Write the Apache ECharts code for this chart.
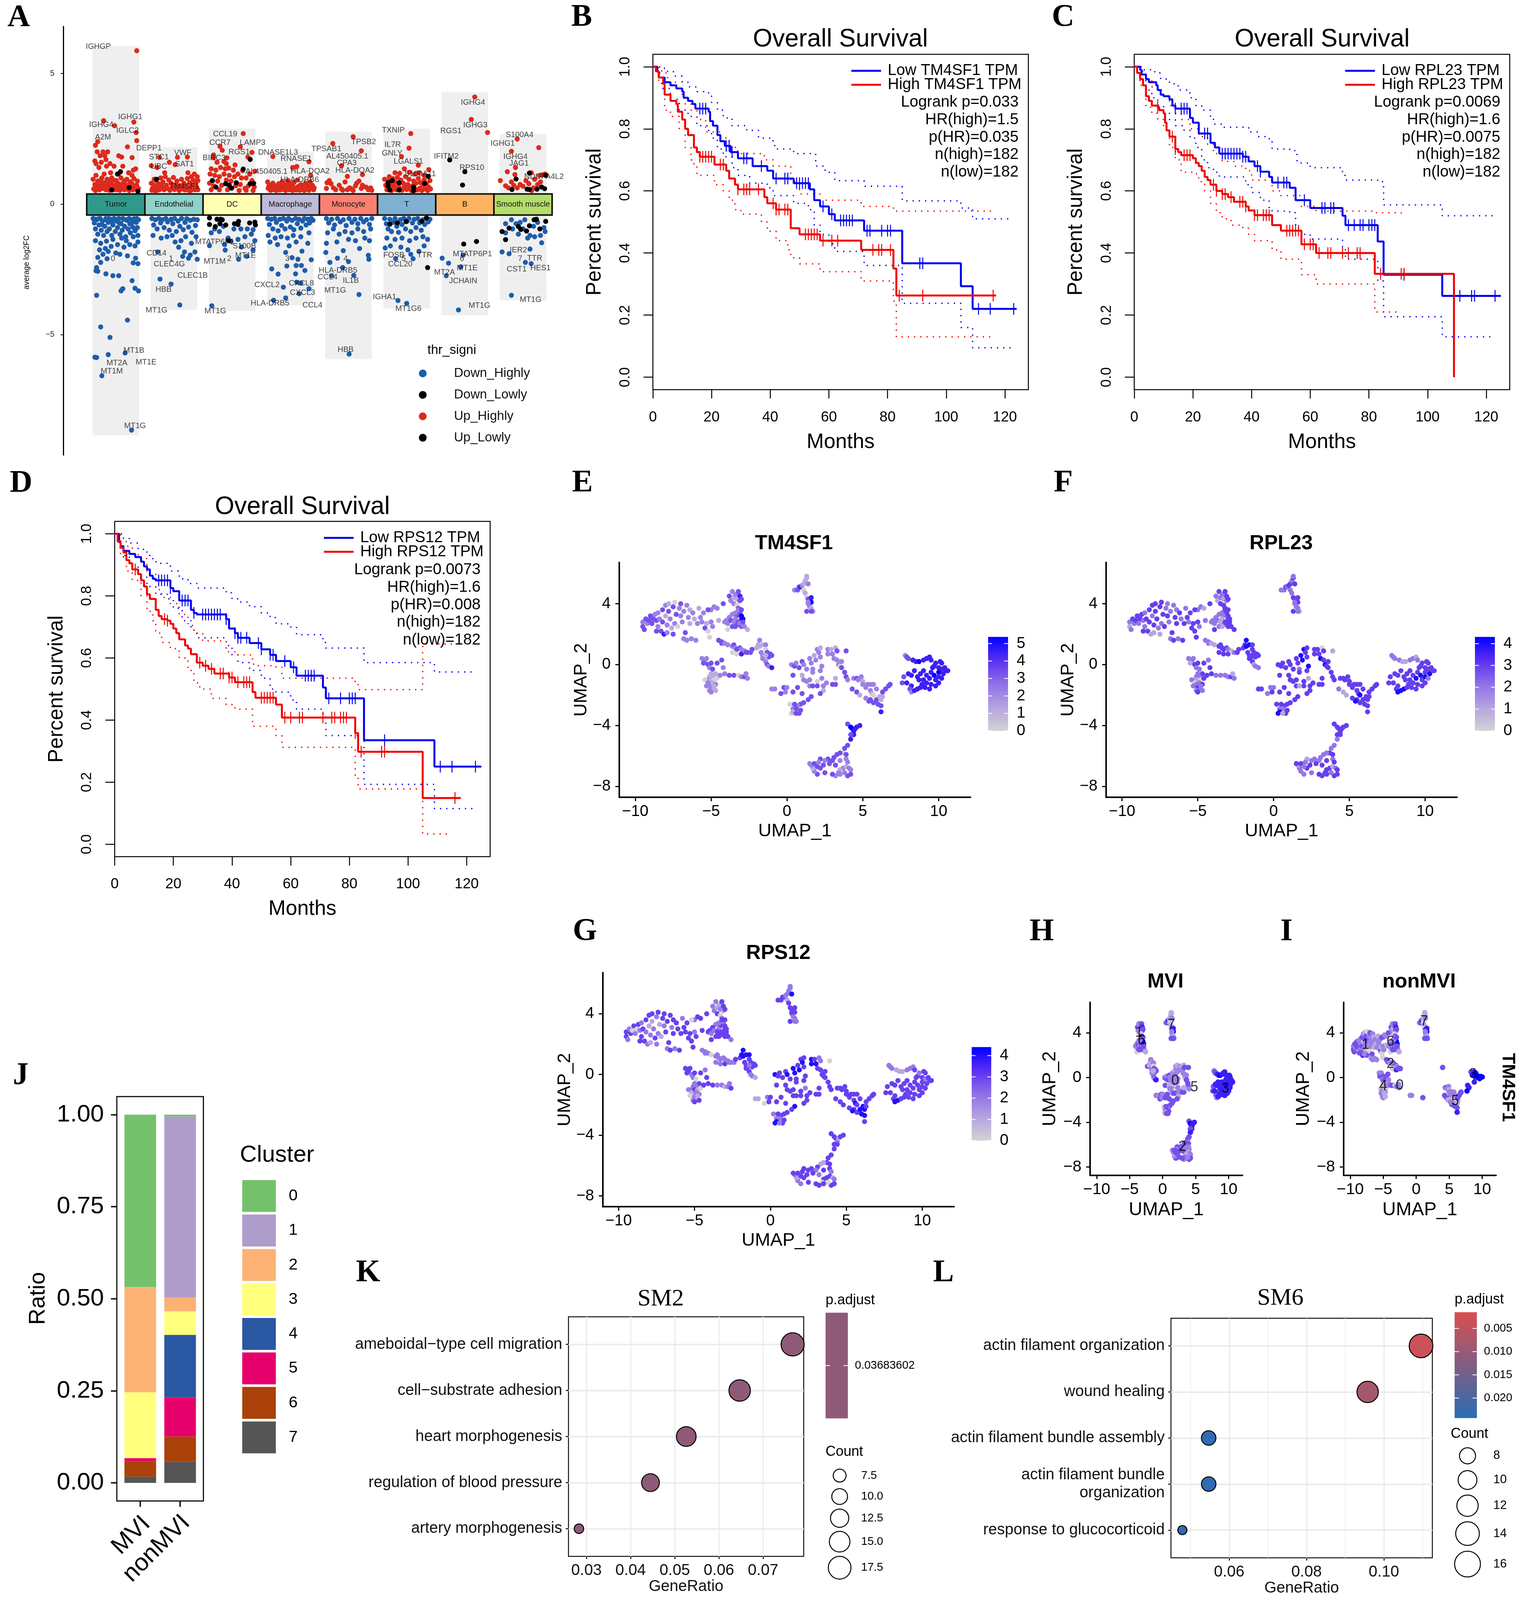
<!DOCTYPE html>
<html><head><meta charset="utf-8">
<style>html,body{margin:0;padding:0;background:#fff;overflow:hidden}#c{width:3898px}</style>
<script src="https://cdn.jsdelivr.net/npm/echarts@6/dist/echarts.min.js"></script>
</head><body><div id="c"></div>
<script>
// ---------- Panel A data (cluster offset, log2FC) ----------
const aClusters=['Tumor','Endothelial','DC','Macrophage','Monocyte','T','B','Smooth muscle'];
const aClusterColors=['#2f9a8b','#8dd3c7','#ffffb3','#bebada','#fb8072','#80b1d3','#fdb462','#b3de69'];
const aBarTop=[6.05,2.18,2.89,2.01,2.77,2.89,4.28,2.68];
const aBarBottom=[-8.85,-4.05,-4.09,-3.88,-5.93,-3.99,-4.25,-3.68];
const aTicks=[-5,0,5];
const aUpHigh=[
[.36,5.87,.31,3.14,-.21,3.19,-.02,3,.35,2.74,.36,2.43,-.31,2.39,-.35,2.25,.2,2.19,-.32,2,-.22,2,-.14,2,-.27,1.85,-.19,1.85,.05,1.85,.1,1.8,.28,1.78,-.36,1.65,-.34,1.55,-.17,1.7,-.25,1.6,-.1,1.55,-.29,1.4,-.16,1.45,-.03,1.45,.12,1.45,.3,1.3,.34,1.35,-.34,1.1,-.2,1.15,-.09,1.2,.05,1.15,.22,1.2,.28,1.1,-.39,.95,-.36,.75,-.33,.62,-.31,.88,-.28,.55,-.26,.72,-.24,1,-.22,.6,-.2,.82,-.17,.55,-.15,.95,-.13,.68,-.11,.53,-.09,.8,-.07,1,-.05,.6,-.03,.72,-.01,.55,.01,.9,.03,.65,.05,.78,.07,.53,.09,1,.11,.62,.13,.82,.15,.55,.17,.7,.19,.95,.21,.6,.23,.52,.25,.85,.27,.65,.29,.55,.31,.98,.33,.7,.35,.58,.37,.88,.39,.6,-.38,.58,-.35,.52,-.3,.7,-.27,.9,-.23,.75,-.19,.62,-.16,.7,-.12,.85,-.08,.6,-.04,.92,0,.72,.04,.55,.08,.7,.12,.58,.16,.9,.2,.72,.24,.62,.28,.78,.32,.58,.36,.72],
[-.25,1.79,.06,1.79,.23,1.8,-.08,1.6,-.39,1.47,-.29,1.4,.02,1.51,-.16,1.2,.24,1.2,.35,1.15,.4,1.05,.3,1.05,-.34,.95,-.39,.8,-.37,.6,-.35,.72,-.33,.52,-.31,.9,-.29,.62,-.27,.78,-.25,.55,-.23,1,-.21,.68,-.19,.85,-.17,.55,-.15,1.05,-.13,.72,-.11,.6,-.09,.92,-.07,.53,-.05,.8,-.03,.65,-.01,1.02,.01,.56,.03,.75,.05,.88,.07,.6,.09,.52,.11,.7,.13,.95,.15,.58,.17,.8,.19,.54,.21,.68,.23,.98,.25,.6,.27,.82,.29,.52,.31,.72,.33,.92,.35,.58,.37,.78,.39,.65,.41,.9,.41,.55,-.38,.53,-.3,.52,-.24,.72,-.14,.6,-.04,.6,.06,.7,.16,.68,.26,.52,.36,.55],
[.19,2.7,-.21,2.21,-.17,2.06,.14,2.19,.34,1.98,-.32,1.88,.27,1.8,-.09,1.77,-.14,1.63,-.32,1.77,-.26,1.6,.39,1.26,-.1,1.55,.05,1.5,-.36,1.35,-.28,1.3,-.2,1.4,-.12,1.35,-.06,1.38,.02,1.3,.1,1.15,.18,1.28,.3,1.15,-.38,1.15,-.3,1.1,-.22,1.05,-.14,1.15,-.05,1.1,.04,1.05,.16,1,.24,1,.34,.9,-.39,.8,-.32,.7,-.25,.88,-.18,.72,-.1,.92,-.02,.88,.06,.7,.14,.75,.22,.6,.28,.7,.38,.65,-.36,.55,-.22,.55,-.08,.55,.12,.52,.24,.53,.36,.52],
[-.3,1.82,.04,1.4,.11,1.44,.32,1.62,.35,1.1,-.39,.85,-.38,.6,-.36,.72,-.34,.53,-.32,.65,-.3,.8,-.28,.55,-.26,.7,-.24,.52,-.22,.62,-.2,.78,-.18,.54,-.16,.68,-.14,.85,-.12,.56,-.1,.72,-.08,.52,-.06,.65,-.04,.9,-.02,.55,0,.75,.02,.6,.04,.52,.06,.82,.08,.62,.1,.54,.12,.92,.14,.68,.16,.53,.18,.74,.2,.56,.22,.65,.24,.52,.26,.8,.28,.58,.3,.7,.32,.53,.34,.85,.36,.6,.38,.72,.4,.55,-.37,.68,-.27,.6,-.17,.58,-.07,.75,.03,.68,.13,.6,.23,.72,.33,.62,.41,.62],
[.08,2.58,-.27,2.32,.22,2.04,-.12,1.47,.24,1.13,-.02,1.06,-.37,.82,-.33,.9,-.3,.78,-.38,.6,-.26,.62,-.22,.55,-.16,.72,-.12,.58,-.06,.85,-.02,.55,.02,.62,.08,.52,.12,.7,.14,.8,.18,.88,.22,.6,.24,.72,.3,.65,.34,.55,.38,.62,.4,.53,-.1,.53,.05,.58],
[.07,2.7,.04,2.14,-.09,1.82,.2,1.49,-.04,1.35,.38,1.32,.21,1.2,-.3,1.05,-.2,1.2,-.12,1.18,.05,1.22,.14,1.15,.3,1.1,-.38,.95,-.36,.72,-.34,.55,-.32,.88,-.3,.62,-.28,.78,-.26,.52,-.24,.98,-.22,.68,-.2,.85,-.18,.55,-.16,1.02,-.14,.72,-.12,.6,-.1,.92,-.08,.53,-.06,.8,-.04,.65,-.02,1.05,0,.56,.02,.75,.04,.95,.06,.6,.08,.52,.1,.7,.12,.88,.14,.58,.16,.8,.18,.54,.2,.98,.22,.6,.24,.82,.26,.52,.28,.72,.3,.92,.32,.58,.34,.78,.36,.52,.38,.65,.4,.9,.41,.58],
[.17,4.1,.11,3.24,.39,2.74],
[-.1,2.49,.27,2.16,-.2,2.02,-.13,1.4,-.27,1.24,-.39,.9,-.14,1.13,.14,1.2,.28,1.1,.33,1.12,.38,1.15,-.2,.85,-.05,.75,-.1,.62,0,.68,.05,.9,.1,.78,.2,.95,.25,.75,-.3,.7,-.25,.62,-.16,.72,.18,.62,.15,.52,.3,.85]];
const aUpLow=[
[.03,1.15,.08,1.24,-.07,.54,.23,.63,.38,.49],[-.3,.95],
[.31,1.71,.19,1.34,-.34,.9,-.28,.65,-.11,.78,-.05,.72,-.01,.61,.07,.82,.31,.78,.37,.79],[],[],
[.37,1.06,-.25,.9,-.32,.82,-.32,.7,-.29,.54,-.13,.82,-.13,.54,.12,.65,.12,.51,.31,.79],
[-.26,1.69,0,1.24,-.04,.73],
[.11,1.19,-.12,.96,-.19,.56,.07,.57,.11,.56,.24,.57,.32,.65,.37,.59,.39,1.1]];
const aDownHigh=[
[-.33,-3.49,-.26,-4.7,-.1,-5.1,.2,-4.44,-.36,-5.86,-.33,-5.87,-.13,-5.76,.16,-5.7,-.24,-6.57,.27,-8.65,.09,-3.32,.12,-3.24,.39,-3.32,.33,-3.22,.28,-2.93,-.17,-2.67,-.05,-2.74,.05,-2.74,-.34,-2.55,-.31,-2.57,-.33,-2.43,-.26,-2.23,-.15,-2.09,.34,-2.07,.3,-2.25,.38,-2.28,0,-1.87,.07,-1.92,.2,-1.98,-.31,-2.04,-.22,-1.92,-.13,-1.81,-.28,-1.75,-.18,-1.7,-.08,-1.62,.03,-1.55,.14,-1.65,.24,-1.55,.33,-1.6,.38,-1.45,-.35,-1.4,-.26,-1.5,-.16,-1.42,-.05,-1.35,.1,-1.3,.18,-1.4,.3,-1.25,.38,-1.2,-.39,-.55,-.37,-.72,-.35,-.95,-.33,-.6,-.31,-1.15,-.29,-.8,-.27,-.55,-.25,-1,-.23,-.65,-.21,-1.2,-.19,-.85,-.17,-.55,-.15,-1.05,-.13,-.7,-.11,-.95,-.09,-.58,-.07,-1.2,-.05,-.8,-.03,-.55,-.01,-1.05,.01,-.65,.03,-.9,.05,-.55,.07,-1.15,.09,-.75,.11,-1,.13,-.58,.15,-.85,.17,-1.25,.19,-.62,.21,-.95,.23,-.55,.25,-1.1,.27,-.72,.29,-.88,.31,-.56,.33,-1.02,.35,-.7,.37,-.9,.39,-.6,-.36,-.58,-.3,-.56,-.24,-.78,-.18,-.6,-.12,-.55,-.06,-.68,0,-.6,.06,-.72,.12,-.55,.18,-.6,.24,-.75,.3,-.62,.36,-.55],
[-.24,-2.87,-.05,-3.06,.1,-3.86,-.28,-1.83,.18,-1.83,.36,-1.83,.4,-2.11,.25,-2.07,.15,-2,.28,-1.95,.08,-1.65,.02,-1.45,.12,-1.4,.3,-1.5,-.36,-1.2,-.22,-1.3,-.12,-1.25,-.03,-1.2,.2,-1.25,.38,-1.25,-.38,-.55,-.35,-.8,-.32,-.6,-.29,-.95,-.26,-.55,-.23,-.72,-.2,-.6,-.17,-.9,-.14,-.55,-.11,-.68,-.08,-1,-.05,-.58,-.02,-.75,.01,-.55,.04,-1.05,.07,-.65,.1,-.85,.13,-.55,.16,-.98,.19,-.7,.22,-.56,.25,-.88,.28,-.62,.31,-1.08,.34,-.58,.37,-.82,.4,-.6],
[-.35,-3.89,-.39,-1.59,-.12,-1.76,.11,-2.11,.16,-1.64,.36,-1.76,.25,-2,-.13,-1.55,-.07,-1.3,-.02,-1.42,.1,-1.35,.22,-1.25,.33,-1.15,.39,-1.4,-.36,-1.1,-.3,-.95,-.22,-1.05,-.15,-.85,.03,-.95,.15,-.95,.26,-.95,.36,-.98],
[-.32,-2.48,-.21,-2.68,-.06,-2.37,.1,-2.35,.19,-2.35,.25,-2.54,.09,-2.67,-.12,-3.18,.11,-2.99,.18,-3.02,.32,-3.24,.15,-3.43,-.29,-3.68,-.08,-3.59,.36,-2.13,.13,-2.11,.03,-2.05,-.08,-1.85,.2,-1.8,-.02,-1.6,-.22,-1.55,-.35,-1.45,.1,-1.45,.3,-1.5,-.38,-1.2,-.26,-1.3,-.16,-1.25,-.05,-1.3,.05,-1.2,.18,-1.25,.32,-1.1,-.39,-.55,-.36,-.78,-.33,-.58,-.3,-.95,-.27,-.55,-.24,-.7,-.21,-1.02,-.18,-.58,-.15,-.82,-.12,-.55,-.09,-.95,-.06,-.65,-.03,-.55,0,-.88,.03,-.62,.06,-.98,.09,-.55,.12,-.75,.15,-.58,.18,-.92,.21,-.65,.24,-.55,.27,-.8,.3,-.58,.33,-.72,.36,-.55,.39,-.62],
[.01,-5.74,.18,-3.46,.09,-2.73,-.1,-2.43,-.29,-2.74,0,-2.2,-.19,-2.07,-.32,-2.23,.34,-1.96,.35,-2.11,-.39,-1.85,-.09,-1.78,.19,-1.7,-.38,-1.5,-.2,-1.45,0,-1.35,.12,-1.4,.28,-1.3,.36,-1.4,-.36,-1.1,-.26,-.95,-.16,-1.15,-.06,-1.05,.06,-1.1,.16,-.95,.26,-1.05,.38,-.95,-.38,-.55,-.34,-.72,-.29,-.58,-.24,-.8,-.19,-.55,-.14,-.68,-.09,-.6,-.04,-.82,.01,-.55,.06,-.7,.11,-.58,.16,-.75,.21,-.55,.26,-.68,.31,-.6,.36,-.78,.4,-.55],
[0,-3.8,-.15,-3.69,-.19,-2.09,.11,-2.09,-.37,-1.68,.21,-1.81,.07,-1.92,-.28,-1.6,-.1,-1.65,.02,-1.75,.3,-1.6,-.34,-1.3,-.2,-1.35,-.08,-1.3,.05,-1.4,.16,-1.3,.28,-1.25,.36,-1.35,-.38,-.55,-.35,-.75,-.32,-.95,-.29,-.58,-.26,-1.05,-.23,-.7,-.2,-.55,-.17,-.85,-.14,-1.08,-.11,-.6,-.08,-.78,-.05,-.55,-.02,-.95,.01,-.65,.04,-.55,.07,-1.05,.1,-.72,.13,-.58,.16,-.9,.19,-.55,.22,-.72,.25,-1,.28,-.6,.31,-.78,.34,-.55,.37,-.68,.4,-.58],
[-.11,-4.05,-.32,-2.74,-.39,-2.07,-.28,-2.26,-.07,-2.4,-.03,-1.95],
[-.2,-3.49,-.36,-1.83,-.24,-1.9,.12,-1.72,.04,-2.23,.14,-2.28,.32,-1.48,.2,-1.25,-.3,-1.1,-.18,-.95,-.05,-.7,-.2,-.6,-.12,-.75,0,-.95,.03,-.6,.12,-1.2,.18,-.85,.25,-.7,.3,-1.2,.36,-.9,-.3,-.75,.08,-1.3,-.08,-1.15,.38,-1.05]];
const aDownLow=[[],[],
[-.39,-.53,-.26,-.58,-.2,-.58,-.17,-.6,-.39,-.78,-.29,-.86,-.21,-.75,-.11,-.8,.04,-.75,.11,-.66,.1,-.78,.3,-.72,.39,-.69,.4,-.8,-.06,-1.4],[],[],
[-.29,-.77,-.16,-.72,-.01,-.67,.26,-.66,.34,-.53,.36,-2.43],
[-.02,-1.53,.2,-1.43],
[-.36,-1.05,-.24,-.92,-.3,-1.36,-.08,-.86,-.04,-.97,.06,-1.03,.11,-.83,.19,-.6,.23,-.58,.29,-.95,.39,-.66]];
const aGeneLabels=[['IGHGP',-.3,6.02],['IGHG1',.25,3.33],['IGHG4',-.25,3.03],['IGLC2',.2,2.81],['A2M',-.22,2.55],['DEPP1',.57,2.14],['STC1',.74,1.79],['VWF',1.15,1.96],['UBC',.74,1.43],['SAT1',1.18,1.53],['TM4SF1',1.18,.67],['CCL19',1.88,2.68],['CCR7',1.79,2.35],['LAMP3',2.35,2.35],['RGS1',2.12,1.99],['BIRC3',1.69,1.77],['AL450405.1',2.59,1.24],['DNASE1L3',2.79,1.98],['RNASE1',3.1,1.73],['HLA-DQA2',3.34,1.25],['HLA-DRB6',3.16,.92],['TPSAB1',3.62,2.11],['TPSB2',4.26,2.38],['AL450405.1',3.98,1.83],['CPA3',3.97,1.57],['HLA-DQA2',4.11,1.28],['TXNIP',4.77,2.83],['IL7R',4.76,2.27],['GNLY',4.75,1.94],['LGALS1',5.03,1.63],['S100A11',5.23,1.15],['IGHG4',6.14,3.89],['IGHG3',6.18,3.02],['RGS1',5.76,2.79],['IFITM2',5.68,1.83],['RPS10',6.12,1.39],['S100A4',6.94,2.64],['IGHG1',6.65,2.32],['IGHG4',6.87,1.81],['JAG1',6.93,1.55],['NDUFA4L2',7.36,1.04],
['0',-.05,-2.1],['CD14',.7,-1.89],['1',.95,-2.1],['CLEC4G',.92,-2.3],['CLEC1B',1.32,-2.73],['HBB',.82,-3.27],['MT1G',.7,-4.07],['MTATP6P1',1.7,-1.45],['S100B',2.21,-1.62],['MT1E',2.23,-1.97],['MT1M',1.7,-2.2],['2',1.95,-2.1],['MT1G',1.71,-4.09],['3',2.95,-2.1],['CXCL2',2.6,-3.1],['CXCL8',3.19,-3.03],['CXCL3',3.21,-3.39],['HLA-DRB5',2.65,-3.8],['CCL4',3.38,-3.87],['4',3.95,-2.1],['HLA-DRB5',3.82,-2.54],['CCL4',3.64,-2.79],['IL1B',4.04,-2.93],['MT1G',3.77,-3.3],['HBB',3.95,-5.58],['FOSB',4.78,-1.96],['5',4.95,-2.1],['TTR',5.31,-1.96],['CCL20',4.89,-2.3],['IGHA1',4.62,-3.56],['MT1G6',5.03,-4],['MTATP6P1',6.13,-1.92],['6',5.95,-2.1],['MT1E',6.04,-2.45],['MT2A',5.65,-2.62],['JCHAIN',5.97,-2.95],['MT1G',6.25,-3.89],['IER2',6.92,-1.76],['7',6.95,-2.1],['TTR',7.2,-2.08],['CST1',6.89,-2.49],['HES1',7.3,-2.45],['MT1G',7.13,-3.67],['MT1B',.31,-5.6],['MT2A',.02,-6.09],['MT1E',.52,-6.06],['MT1M',-.07,-6.4],['MT1G',.33,-8.49]];

// ---------- Panels B, C, D data: survival curves [month, survival] ----------
const bLow=[[0,1],[1.5,.985],[2,.965],[4,.95],[6,.94],[8,.93],[10,.92],[10.5,.9],[12,.89],[13.5,.88],[14.5,.865],[19,.855],[19.5,.825],[20.5,.81],[22,.78],[23,.76],[24.5,.745],[26.5,.725],[29,.705],[34,.68],[39,.665],[41,.64],[48,.625],[53.5,.605],[55,.57],[57,.55],[60,.525],[62,.505],[72,.472],[85,.367],[105,.293],[109,.22],[124,.22]];
const bLowUp=[[0,1],[3,.995],[5,.985],[7,.97],[10,.95],[12,.935],[15,.92],[19,.905],[20,.885],[22,.86],[24,.835],[27,.81],[32,.795],[36,.77],[41,.755],[41.5,.735],[48,.72],[53,.72],[55.5,.68],[58.7,.66],[62,.633],[72,.615],[85,.568],[105,.545],[109,.51],[122,.51]];
const bLowDn=[[0,1],[1,.98],[3,.93],[6,.895],[9,.86],[12,.84],[15,.81],[19,.79],[20,.77],[22,.735],[24,.71],[27,.675],[29,.65],[33,.625],[39,.61],[41,.585],[48,.56],[53,.54],[55,.49],[57,.46],[60,.43],[62,.405],[72,.36],[85,.238],[105,.16],[109,.095],[122,.095]];
const bHigh=[[0,1],[1,.985],[2,.965],[3.5,.945],[4,.91],[6,.89],[8,.88],[8.5,.855],[10,.83],[11,.8],[12,.78],[14,.74],[15,.725],[16,.71],[21,.685],[25,.665],[26,.64],[28,.62],[29,.605],[38,.58],[39,.56],[42,.54],[47,.48],[50,.46],[57,.44],[71,.41],[82,.35],[83,.263],[117,.263]];
const bHighUp=[[0,1],[3,.98],[5,.95],[8,.93],[10,.91],[11,.88],[13,.86],[15,.83],[18,.79],[23,.77],[26,.74],[29,.72],[38,.7],[41,.68],[47,.63],[50,.59],[57,.57],[71,.55],[82,.535],[116,.533]];
const bHighDn=[[0,1],[2,.95],[4,.86],[6,.84],[9,.8],[11,.74],[13,.7],[14,.68],[15,.65],[21,.62],[24,.6],[26,.57],[28,.54],[30,.525],[37,.5],[39,.47],[42,.44],[46,.41],[47,.385],[50,.365],[57,.34],[71,.31],[82,.245],[83,.13],[116,.13]];
const bLowCens=[16,17,18,25,26,27,31,32,37,42,45,46,49,50,51,52,53,58,61,64,65,66,67,68,73,74,78,80,81,91,92,111,115,123];
const bHighCens=[16,17,18,19,20,23,24,29,31,32,33,36,41,42,43,45,46,52,53,54,55,56,58,61,63,75,77,78,81,84,92,116];

const cLow=[[0,1],[2,.99],[2.5,.975],[4,.96],[5,.95],[7.5,.94],[8,.925],[9,.91],[10,.905],[12,.895],[13,.875],[14,.865],[19,.835],[20,.82],[22,.785],[26,.755],[27.5,.74],[29,.72],[37,.71],[39,.695],[41,.68],[43,.662],[46,.645],[47,.627],[53,.61],[55,.57],[60,.545],[71,.52],[72,.49],[83,.437],[85,.33],[105,.262],[125,.262]];
const cLowUp=[[0,1],[3,.99],[7,.98],[9,.96],[12,.945],[15,.925],[18,.92],[19,.9],[21,.875],[23,.86],[26,.84],[27,.815],[30,.805],[37,.805],[39,.79],[42,.775],[46,.76],[47,.735],[53,.73],[55,.72],[55.5,.69],[60,.675],[71,.65],[72,.635],[83,.63],[85,.555],[105,.52],[123,.52]];
const cLowDn=[[0,1],[2,.955],[4,.925],[6,.9],[8,.875],[10,.85],[12,.83],[14,.81],[17,.795],[19,.77],[21,.74],[23,.7],[25,.675],[27,.66],[29,.645],[36,.645],[38,.62],[40,.595],[43,.57],[46,.54],[47,.535],[53,.53],[55,.48],[57,.46],[60,.445],[71,.42],[72,.38],[83,.31],[85,.195],[105,.13],[122,.13]];
const cHigh=[[0,1],[1,.98],[2,.96],[3,.94],[4,.905],[5,.89],[6,.875],[8,.87],[8.5,.86],[10,.85],[10.5,.82],[11,.795],[12,.775],[14,.735],[15,.725],[16,.715],[20,.705],[21,.69],[22,.68],[23,.665],[24,.645],[25,.635],[26,.62],[28,.6],[30,.59],[32,.58],[34,.565],[38,.55],[39,.537],[41,.522],[47,.49],[50,.472],[57,.428],[62,.4],[82,.333],[109,0]];
const cHighUp=[[0,1],[2,.985],[4,.96],[6,.935],[8,.925],[10,.905],[12,.875],[14,.85],[16,.83],[19,.8],[22,.775],[25,.75],[27,.72],[30,.695],[34,.68],[38,.665],[40,.635],[47,.6],[50,.585],[57,.55],[62,.535],[82,.53],[91,.525]];
const cHighDn=[[0,1],[2,.94],[4,.87],[6,.85],[8,.83],[10,.8],[12,.74],[14,.7],[16,.66],[20,.655],[22,.63],[24,.6],[26,.56],[28,.53],[30,.51],[33,.49],[37,.48],[39,.46],[41,.44],[47,.41],[50,.38],[57,.33],[62,.3],[82,.21],[91,.21]];
const cLowCens=[14,16,17,18,24,25,30,31,32,33,34,35,36,37,38,42,43,49,51,52,58,64,65,67,68,73,75,77,78,80,81,82,92,111,115,116,123];
const cHighCens=[8,13,14,17,18,19,27,28,30,31,33,36,37,38,41,42,44,45,46,52,53,54,55,56,58,60,61,63,66,67,71,73,76,77,84,91,92];

const dLow=[[0,1],[1.5,.975],[2,.96],[3,.945],[5,.935],[7,.925],[9,.91],[10,.895],[11,.885],[12,.865],[13,.855],[14,.85],[19,.825],[20,.815],[22,.785],[26,.755],[27,.745],[28,.74],[38,.725],[39,.695],[41,.68],[42,.665],[46,.648],[50,.628],[53,.61],[55,.59],[60,.57],[62,.543],[71,.505],[72,.47],[85,.335],[109,.25],[125,.25]];
const dLowUp=[[0,1],[3,.985],[5,.97],[8,.95],[11,.93],[13,.91],[15,.905],[19,.88],[22,.855],[25,.84],[28,.825],[38,.81],[40,.79],[42,.78],[46,.765],[50,.745],[53,.73],[55,.71],[60,.7],[62,.675],[71,.65],[72,.632],[85,.585],[109,.555],[122,.555]];
const dLowDn=[[0,1],[1.5,.955],[3,.925],[5,.895],[8,.86],[11,.83],[14,.805],[18,.79],[20,.76],[23,.72],[26,.69],[28,.665],[38,.64],[40,.61],[42,.585],[46,.56],[50,.535],[53,.5],[55,.49],[60,.465],[62,.435],[71,.41],[72,.35],[85,.193],[109,.115],[122,.115]];
const dHigh=[[0,1],[1,.975],[2,.955],[3,.94],[4,.915],[5,.905],[6,.885],[8,.87],[9,.85],[10,.83],[11,.805],[12,.79],[14,.755],[15,.735],[16,.725],[18,.72],[19,.71],[20,.695],[21,.68],[22,.66],[24,.64],[25,.63],[26,.612],[28,.585],[30,.575],[32,.565],[34,.55],[39,.537],[41,.522],[47,.49],[48,.472],[55,.45],[57,.408],[82,.358],[83,.298],[105,.149],[118,.149]];
const dHighUp=[[0,1],[2,.975],[4,.96],[6,.935],[8,.92],[11,.87],[14,.82],[16,.795],[19,.775],[22,.74],[25,.705],[27,.68],[30,.655],[38,.62],[41,.61],[47,.58],[48,.575],[55,.57],[57,.535],[82,.52],[83,.498],[105,.645],[115,.645]];
const dHighDn=[[0,1],[2,.93],[4,.88],[6,.85],[9,.8],[11,.75],[13,.72],[14,.68],[16,.65],[19,.63],[22,.6],[25,.56],[27,.52],[29,.5],[33,.47],[38,.45],[41,.435],[47,.38],[55,.35],[57,.312],[82,.22],[83,.178],[105,.033],[115,.033]];
const dLowCens=[15,16,17,18,19,23,24,25,27,30,31,32,33,34,35,36,38,41,42,43,45,49,50,53,54,58,61,65,66,67,68,73,77,80,81,82,92,111,115,123];
const dHighCens=[7,17,18,29,31,33,36,37,39,40,42,44,45,46,50,51,52,53,54,58,60,63,64,71,74,75,77,78,79,82,84,91,92,116];

// ---------- UMAP data: x, y, TM4SF1, RPL23, RPS12 ----------
const umapLeft=[-9.5,2.8,2,2,3,-9.5,2.5,3,1,3,-9.4,2.3,3,2,2,-9.3,3,3,3,2,-9.2,2.7,2,2,3,-9.1,2.9,3,3,0,-9,3.2,3,3,3,-8.9,2.7,3,2,2,-8.8,3,3,3,0,-8.7,3.3,2,3,3,-8.6,2.9,3,2,2,-8.5,2.5,2,2,3,-8.5,3.4,2,2,2,-8.4,3,2,3,3,-8.3,2.2,3,3,3,-8.2,3.6,3,3,3,-8.2,2.8,3,3,2,-8.1,2,4,1,2,-8,3.9,2,3,3,-8,3.2,1,2,1,-7.9,2.6,2,3,2,-7.8,4,1,3,3,-7.8,3.5,3,3,1,-7.7,3,2,3,2,-7.6,2.4,1,2,3,-7.5,2,3,1,2,-7.5,3.8,3,3,2,-7.4,4.1,0,3,3,-7.4,2.7,2,2,2,-7.3,3.3,3,3,1,-7.2,2.5,0,3,1,-7.1,3.7,2,2,3,-7,3.2,2,3,2,-7,4,3,2,3,-6.9,2.8,2,2,3,-6.8,3.5,2,2,3,-6.7,2.1,3,3,3,-6.6,3.9,2,2,3,-6.5,3.1,2,3,2,-6.4,2.7,1,3,3,-6.4,3.6,1,2,3,-6.3,1.7,2,2,2,-6.2,3.4,2,3,3,-6.1,3,1,2,3,-6,1.6,2,3,3,-5.9,2.7,2,3,3,-5.8,3.7,1,2,2,-5.7,3.1,2,3,3,-5.6,2.8,2,2,3,-5.5,3.4,2,3,3,-5.4,2.4,3,3,3,-5.3,2.7,1,3,3,-5.2,2.2,0,3,3,-5.1,1.8,0,3,3,-5,3.6,2,2,2,-5,2.8,2,3,2,-4.9,2.5,2,2,3,-5.2,3.6,3,3,0,-4.8,3.8,2,2,3,-4.6,3.7,2,1,3,-4.5,2.9,1,2,3,-4.2,4,3,3,3,-4.3,1.5,3,2,2,-6.8,1.7,2,2,2,-6.6,1.6,2,3,3,-7.9,2.1,2,1,1,-8.6,2.2,3,3,3];
const umapUp=[-3.8,4.5,3,2,2,-3.7,4.2,2,1,2,-3.6,4.8,2,3,2,-3.5,4.4,1,2,1,-3.5,4,2,3,3,-3.4,4.6,2,2,1,-3.3,4.3,1,1,2,-3.2,4.8,3,3,3,-3.1,4.5,4,3,3,-3.1,4.2,3,2,1,-3,4.3,3,3,3,-3.3,3.9,0,3,0,-3.2,3.7,3,3,2,-3.1,3.4,3,3,2,-3.3,3.2,3,2,3,-3.4,3,2,1,2,-3,3.2,5,3,3,-3,3,4,3,3,-2.9,3,5,3,3,-3.6,3.3,2,2,2,-3.8,3.1,2,2,3,-4,2.9,2,2,3,-4.1,2.8,2,2,3,-3.9,2.7,2,2,2,-3.7,2.9,3,2,2,-3.5,2.8,2,1,3,-3.4,3.4,2,2,2,-3.3,2.6,3,2,3,-3.2,2.8,3,3,3,-3.1,2.7,2,3,3,-3,2.5,3,3,3,-2.9,2.6,2,3,3,-2.8,2.5,2,3,3,-2.6,2.3,1,3,2,-3.9,2.3,0,3,3,-3.6,2.5,3,2,3,-3.4,2.5,3,1,3,-2.9,2.8,3,3,3,-3.2,3.6,2,3,3,-3,3.6,3,3,3];
const umapMidL=[-4.5,1.6,3,2,2,-4.3,1.4,3,2,2,-4.1,1.4,2,1,2,-3.9,1.3,2,1,0,-3.6,1.2,2,3,2,-3.5,1.3,3,3,2,-3.4,1.1,2,3,2,-3.3,1,3,3,2,-3.1,1.1,3,3,2,-3,1,2,2,2,-3.6,.8,0,3,2,-3.3,.7,0,3,2,-3,.7,4,3,3,-2.8,.9,2,1,2,-2.7,.8,3,0,2,-2.6,.8,3,2,2,-2.4,.8,3,3,2];
const umapMidR=[-2.3,1,3,3,3,-2,1.1,1,3,3,-1.9,1.3,1,3,4,-1.8,1.6,2,4,4,-1.8,1.2,1,4,4,-1.6,1.3,1,4,4,-1.4,1.3,2,3,4,-1.7,.8,2,3,3,-1.6,.6,2,3,3,-1.4,1,0,3,3,-1.5,.5,0,3,3,-1.3,.8,3,3,3,-1.2,.5,3,3,3,-1.1,.7,3,3,3,-1,.6,3,3,3,-1.4,.2,2,3,3,-1.3,0,3,1,2,-1.2,-.1,2,2,2,-1,-.2,4,2,1,-1.6,.4,2,3,3,-1.4,.6,1,3,2];
const umapLow=[-5.6,.4,2,2,3,-5.4,.2,2,2,3,-5.5,.1,3,1,3,-5.3,.4,2,2,3,-5.2,0,3,3,2,-5,.1,3,3,3,-5.1,-.2,2,2,2,-4.9,-.3,3,2,0,-4.6,.1,3,3,3,-4.7,-.6,1,3,3,-5,-.6,1,2,2,-5.1,-.8,1,2,2,-4.9,-.8,1,2,2,-5.2,-1,2,1,2,-5.4,-1,0,2,2,-5,-1,1,1,3,-4.8,-1,0,0,1,-4.6,-.9,0,3,0,-5.2,-1.2,2,0,1,-5.1,-1.3,2,2,1,-4.9,-1.2,1,2,2,-4.7,-1.3,2,3,2,-5.3,-1.4,2,2,0,-5,-1.5,2,3,2,-4.8,-1.6,1,2,1,-5.1,-1.7,2,2,2,-5,-1.8,2,3,3,-4.7,-1.7,1,2,3,-4.8,-1.4,1,2,1,-4.4,-.7,2,3,3,-4.2,-.2,2,3,3,-4.1,-.6,2,3,3,-3.8,-.7,3,2,3,-3.5,-.7,3,2,2,-3.2,-.7,0,2,2,-3,-.8,2,2,1,-2.8,-.8,3,3,2,-2.7,-.6,2,1,2,-2.6,-.9,2,2,3,-4.3,.3,3,2,2];
const umapTop=[.5,4.9,2,2,3,.7,4.9,3,2,3,.8,5.1,3,3,3,.9,5.1,4,2,3,1,5.2,2,3,2,1.1,4.9,0,2,1,1.1,5.3,1,3,2,1.2,5.5,1,2,2,1.3,5.7,1,3,2,1.3,5.8,1,2,2,1.4,5.3,2,3,4,1.2,4.7,1,2,3,1.3,4.4,0,3,3,1.4,4.3,3,3,3,1.6,4.4,4,3,3,1.6,4.1,5,3,3,1.4,4,2,2,2,1.5,3.8,2,2,2,1.6,3.7,1,2,2,1.7,3.5,2,1,2,1.3,3.5,3,3,3,1.6,3.5,3,2,2,1.4,4.1,2,2,3];
const umapCenter=[.3,0,2,3,4,.5,-.1,3,3,3,.6,.1,2,3,3,.8,-.2,3,3,3,1,.2,3,3,3,1.1,0,2,3,4,1.3,-.3,2,3,3,1.5,.4,2,3,4,1.6,.1,2,3,4,1.7,-.3,2,2,3,1.8,.6,1,4,3,1.9,.3,2,4,4,2,1,2,4,3,2.1,.8,2,3,4,2.2,.5,2,3,3,2.2,1.1,1,3,3,2.3,-.1,2,4,3,2.7,1,2,3,4,2.7,.7,2,3,4,2.9,1,1,3,3,3,.7,2,3,4,3.1,.4,2,4,3,3.2,1.1,1,0,2,3.3,.9,3,3,2,3.3,.3,2,3,3,3.4,0,2,4,3,3.5,-.1,0,3,3,3.6,.2,2,3,3,3.6,-.2,3,3,3,3.8,-.5,3,3,3,3.9,-.8,3,3,3,3.9,.9,3,1,0,4,-1,2,3,3,.4,-.7,3,3,3,1,-.7,1,3,3,1.1,-1,2,3,3,1.3,-1.1,2,3,3,1.5,-1,2,3,3,1.7,-.5,2,3,3,2.2,-.4,2,3,3,2,-1.1,0,3,3,2,-1.4,3,3,3,1.5,-1.4,2,3,3,1.7,-1.4,3,1,3,2.3,-.9,2,1,2,2.4,-1.4,2,3,3,2.6,-1.2,2,3,3,3,-1.3,3,3,3,3.2,-1.3,3,3,3,3.2,-.9,1,3,3,2.4,-1.7,1,3,3,-1,-1.6,2,3,1,-.8,-1.6,2,3,1,-.4,-1.9,3,2,0,-.2,-1.5,3,2,2,0,-1.5,2,2,3,-.1,-1.8,2,3,3,.4,-1.8,3,3,3,.7,-1.5,3,3,3,1,-1.9,3,3,3,1.6,-2.1,3,3,4,1.4,-2.3,3,3,3,1.1,-2.5,3,3,3,.9,-2.6,3,3,3,.7,-2.7,2,3,3,.2,-2.6,0,3,2,.5,-2.6,3,3,3,.4,-2.9,2,2,2,.6,-2.9,3,2,2,.9,-3,3,3,3,.8,-3.2,3,3,3,.3,-3.2,0,4,4,.4,-3.1,1,4,4,.6,-3.2,3,1,2,2.2,-1.9,3,3,3];
const umapArm=[4.4,-.9,2,3,3,4.6,-.9,3,3,3,4.9,-.8,2,3,3,4.7,-1,2,3,3,5,-1.1,1,3,3,5,-1.3,2,3,3,5.3,-1.3,2,3,3,5.5,-1.3,2,3,3,5.7,-1.3,2,3,3,5.2,-1.5,2,3,3,5.5,-1.7,2,3,3,5.6,-1.9,1,3,4,5.7,-2,0,4,3,5.9,-1.6,2,3,3,5.5,-2.3,3,3,3,5.7,-2.5,3,3,3,5.9,-2.3,3,3,4,6.1,-2.1,1,3,4,6.2,-2.3,1,3,4,6,-2.6,3,3,4,6.2,-2.7,3,3,4,6.2,-3.1,4,3,3,5.4,-2.4,3,4,4,6.3,-2.1,1,3,3,6.5,-1.6,3,3,3,6.7,-1.4,3,3,3,6.8,-1.3,3,3,3,6.3,-1.8,3,3,3,4.3,-1.6,3,2,3,4.6,-1.8,3,1,3,4.8,-2,1,1,3,5.2,-2.2,2,3,3];
const umapRight=[7.6,-1.2,3,3,3,7.8,.6,2,2,2,7.9,.5,3,2,2,8,.4,3,2,2,8.3,.3,4,2,1,8.5,.2,4,1,1,8.7,.2,5,1,1,9,.3,4,2,2,9.2,.4,4,2,2,9.4,.5,4,1,2,9.5,.3,4,2,3,7.7,-.8,3,3,3,8,-.6,4,3,3,8.2,-.7,4,3,3,7.9,-1.2,4,3,3,8.2,-1.4,4,3,3,8.1,-1.6,3,3,3,8.2,-1.8,2,4,4,8.4,-1.7,4,4,4,8.6,-1.6,4,4,3,8.4,-.4,4,3,3,8.6,-.8,4,3,3,8.8,-.6,4,3,3,8.7,-1,4,3,3,8.9,-1.3,4,3,3,8.8,-1.5,4,3,3,9,-.4,4,3,3,9.2,-.7,4,3,3,9,-1,4,3,3,9.2,-1.2,4,3,3,9.1,-1.5,4,3,3,9.4,-.9,4,4,3,9.5,-.5,4,3,3,9.5,-1.3,4,3,3,9.4,-1.6,4,3,3,9.7,-.1,4,3,3,9.7,-.7,5,4,3,9.8,-1,4,3,3,9.8,-1.4,4,3,3,10,-.2,4,3,3,10,-.5,5,3,3,10,-.8,4,4,3,10,-1.2,4,3,3,10.2,.1,4,3,3,10.2,-.3,4,3,2,10.3,-.6,4,4,3,10.2,-.9,4,2,3,10.4,-.2,4,3,3,10.5,-.4,4,3,3,10.6,-.4,4,3,3,9.8,.1,4,3,2,10.1,.2,4,3,3,9.6,-.2,4,3,3];
const umapBottom=[4,-3.9,3,3,3,4.2,-4.1,5,3,3,4.3,-4.2,5,3,3,4.4,-4.4,4,3,2,4.5,-4.2,4,3,1,4.6,-4.1,4,3,3,4.8,-4,4,3,3,4.4,-4.6,4,3,3,4.2,-4.6,3,3,3,4.2,-4.9,4,2,3,4,-5.3,3,2,3,3.8,-5.5,3,2,3,3.7,-5.8,0,3,3,3.9,-5.9,3,3,3,3.5,-5.8,3,2,1,3.3,-5.9,3,2,1,3.1,-6.1,3,2,3,3,-6.3,3,2,2,2.7,-6.2,3,2,3,2.5,-6.3,2,2,3,2.2,-6.2,3,1,3,2.1,-6.4,2,2,3,2.8,-6.5,3,3,3,2.4,-6.6,3,3,3,3.2,-6.6,3,3,2,3.5,-6.3,2,3,3,3.9,-6.2,2,2,3,4,-6.4,2,3,2,3.7,-6.8,2,3,3,3.9,-6.7,1,1,3,4.1,-6.8,2,2,1,4.2,-6.9,2,3,2,3.5,-6.9,1,3,3,3.4,-7.1,2,3,0,4.2,-7.2,3,3,3,4,-7.3,3,3,3,3.8,-7.1,2,2,0,3.5,-7.2,2,3,3,3.2,-7.3,2,3,3,3,-7.2,3,3,3,2.5,-7.1,3,2,3,2,-7.2,3,2,2,1.8,-7,2,2,2,1.7,-6.8,1,2,1,1.6,-6.6,2,1,2,1.5,-6.5,2,3,3,1.8,-6.5,3,3,3,2.2,-6.8,3,3,3,2,-6.7,3,2,3];
const nonMviRight=[8.3,.5,3,3,3,8.5,.3,4,3,3,8.7,.5,4,3,3,8.8,.2,5,3,3,9,0,4,3,3,9,.4,5,3,3,9.2,.2,5,3,3,9.4,.1,5,3,3,9.6,-.1,5,3,3,9.8,.1,5,3,3,10,.05,5,3,3,8.8,-.4,4,3,3,8,-.9,4,3,3,7.7,-1.2,5,3,3,7.8,-.7,4,3,3,4,.9,3,3,3,-.9,-1.6,2,3,3,-.7,-1.6,2,3,3,1,-1.8,3,3,3];
const umapDotMax=[4.8,4.31,4.4];
const umapMviLabels=[['7',1.3,4.7],['1',-3.6,4],['6',-3.2,3.3],['0',1.9,-.3],['5',4.8,-.9],['3',9.5,-1],['2',3,-6.2]];
const umapNonMviLabels=[['1',-7.7,2.9],['6',-3.9,3.2],['7',1.2,5],['2',-3.9,1.2],['4',-5,-.8],['0',-2.5,-.7],['5',5.9,-2.1],['3',8.6,.3]];

// ---------- Panel J data ----------
const jGroups=['MVI','nonMVI'];
const jClusters=['0','1','2','3','4','5','6','7'];
const jMVI=[.468,0,.286,.179,0,.008,.042,.017];
const jNonMVI=[.005,.491,.038,.064,.170,.106,.068,.058];
const jColors=['#74c16b','#ae9ccb','#fbb274','#ffff7c','#2b58a3','#e6006b','#aa4209','#555555'];

// ---------- Panels K, L data ----------
const kTerms=['ameboidal\u2212type cell migration','cell\u2212substrate adhesion','heart morphogenesis','regulation of blood pressure','artery morphogenesis'];
const kRatio=[.0767,.0647,.0526,.0445,.0283];
const kCount=[18,16,14,12,5];
const kLegendCounts=[7.5,10,12.5,15,17.5];
const lTerms=['actin filament organization','wound healing','actin filament bundle assembly','actin filament bundle\norganization','response to glucocorticoid'];
const lRatio=[.1096,.0958,.0547,.0547,.0479];
const lCount=[14,12,7,7,4];
const lPadj=[.0035,.0085,.0235,.0235,.0235];
const lLegendCounts=[8,10,12,14,16];

// ---------- helpers ----------
const SANS='Liberation Sans',SERIF='Liberation Serif';
// The window may be shorter than the figure: fit the vertical layout into what is really available.
const PAGE_H=Math.min(window.innerHeight||4361,4361),sy=PAGE_H/4361;
document.getElementById('c').style.height=PAGE_H+'px';
const chunk=(a,n)=>{const r=[];for(let i=0;i<a.length;i+=n)r.push(a.slice(i,i+n));return r};
const minus=v=>String(v).replace('-','\u2212');
const grid=[],xAxis=[],yAxis=[],series=[],graphic=[],visualMap=[];
const seuratStops=['#0000ff','#5a30f2','#8f70e8','#b5a3e0','#d3d3d3'];
function T(x,y,text,size,o={}){graphic.push({type:'text',x,y:y*sy,rotation:o.rot||0,silent:true,z:50,style:{text,fill:o.c||'#000',fontSize:size,fontFamily:o.f||SANS,fontWeight:o.w||'normal',textAlign:o.a||'left',align:o.a||'left',textVerticalAlign:'middle',verticalAlign:'middle'}})}
function L(x1,y1,x2,y2,c,w){graphic.push({type:'line',silent:true,z:50,shape:{x1,y1:y1*sy,x2,y2:y2*sy},style:{stroke:c,lineWidth:w}})}
function addGrid(x,y,w,h,o={}){grid.push(Object.assign({left:x,top:y*sy,width:w,height:h*sy,containLabel:false},o));return grid.length-1}
function panelLetter(t,x,y){T(x,y,t,80,{f:SERIF,w:'bold'})}

// ---------- Panel A ----------
(function(){
 const i=addGrid(162.4,72,1265.6,1168);
 xAxis.push({gridIndex:i,type:'value',min:-.9,max:7.6,show:false});
 yAxis.push({gridIndex:i,type:'value',min:-9.6,max:6.8,splitLine:{show:false},axisLine:{show:true,onZero:false,lineStyle:{color:'#000',width:3}},axisTick:{show:true,length:7,customValues:aTicks,lineStyle:{color:'#000',width:2}},axisLabel:{customValues:aTicks,margin:23,fontSize:20,color:'#222',fontFamily:SANS,formatter:minus}});
 series.push({type:'custom',name:'clusterBack',xAxisIndex:i,yAxisIndex:i,z:1,silent:true,clip:false,data:aBarTop.map((t,k)=>[k,t,aBarBottom[k]]),
  renderItem:(p,api)=>{const a=api.coord([api.value(0)-.4,api.value(1)]),b=api.coord([api.value(0)+.4,api.value(2)]);return{type:'rect',shape:{x:a[0],y:a[1],width:b[0]-a[0],height:b[1]-a[1]},style:{fill:'#efefef'}}}});
 const mk=(arr)=>arr.flatMap((c,k)=>chunk(c,2).map(p=>[k+p[0],p[1]]));
 const sc=(name,arr,color,z)=>series.push({type:'scatter',name,xAxisIndex:i,yAxisIndex:i,z,symbolSize:13,itemStyle:{color,opacity:1},data:mk(arr),silent:true,clip:false});
 sc('Down_Highly',aDownHigh,'#1e5dab',3);sc('Down_Lowly',aDownLow,'#000000',4);sc('Up_Highly',aUpHigh,'#dd2a1c',3);sc('Up_Lowly',aUpLow,'#000000',4);
 series.push({type:'custom',name:'clusterStrip',xAxisIndex:i,yAxisIndex:i,z:6,silent:true,clip:false,data:aClusters.map((n,k)=>[k,.39,-.42]),
  renderItem:(p,api)=>{const k=api.value(0),a=api.coord([k-.5,.39]),b=api.coord([k+.5,-.42]);return{type:'group',children:[{type:'rect',shape:{x:a[0],y:a[1],width:b[0]-a[0],height:b[1]-a[1]},style:{fill:aClusterColors[k],stroke:'#111',lineWidth:4}},{type:'text',x:(a[0]+b[0])/2,y:(a[1]+b[1])/2,style:{text:aClusters[k],align:'center',verticalAlign:'middle',fontSize:20,fontFamily:SANS,fill:'#111'}}]}}});
 series.push({type:'scatter',name:'geneLabels',xAxisIndex:i,yAxisIndex:i,z:7,symbolSize:0,silent:true,clip:false,data:aGeneLabels.map(g=>({name:g[0],value:[g[1],g[2]]})),label:{show:true,position:'inside',formatter:'{b}',fontSize:20,fontFamily:SANS,color:'#111'},labelLayout:{hideOverlap:false}});
 T(69,715,'average log2FC',19.5,{rot:Math.PI/2,a:'center'});
 T(1094,955,'thr_signi',33);
 panelLetter('A',19,49);
})();

// ---------- Panels B,C,D ----------
const lookup=(curve,m)=>{let v=1;for(const p of curve){if(p[0]<=m)v=p[1];else break}return v};
function km(x,y,gene,d,txt,lg){
 const i=addGrid(x,y,961,914,{show:true,borderColor:'#000',borderWidth:2.5,backgroundColor:'transparent'});
 const yt=[0,.2,.4,.6,.8,1],xt=[0,20,40,60,80,100,120];
 xAxis.push({gridIndex:i,type:'value',min:0,max:128,name:'Months',nameLocation:'middle',nameGap:115*sy,nameTextStyle:{fontSize:53,fontFamily:SANS,color:'#000'},splitLine:{show:false},axisLine:{show:false,onZero:false},axisTick:{show:true,length:24*sy,customValues:xt,lineStyle:{color:'#000',width:2.5}},axisLabel:{customValues:xt,margin:56*sy,fontSize:37,fontFamily:SANS,color:'#000'}});
 yAxis.push({gridIndex:i,type:'value',min:-.04,max:1.04,name:'Percent survival',nameLocation:'middle',nameGap:122,nameTextStyle:{fontSize:53,fontFamily:SANS,color:'#000'},splitLine:{show:false},axisLine:{show:false,onZero:false},axisTick:{show:true,length:24,customValues:yt,lineStyle:{color:'#000',width:2.5}},axisLabel:{customValues:yt,rotate:90,margin:52,fontSize:37,fontFamily:SANS,color:'#000',formatter:v=>v.toFixed(1)}});
 const blue='#0000f0',red='#f00000';
 const line=(name,data,color,dot)=>series.push({type:'line',name,xAxisIndex:i,yAxisIndex:i,step:'end',showSymbol:false,symbol:'none',silent:true,data,z:dot?3:4,lineStyle:dot?{color,width:3.5,type:[3,13]}:{color,width:5}});
 const cens=(name,months,curve,color)=>series.push({type:'scatter',name,xAxisIndex:i,yAxisIndex:i,silent:true,symbol:'rect',symbolSize:[2.5,30],z:5,itemStyle:{color,opacity:1},data:months.map(m=>[m,lookup(curve,m)])});
 line('Low '+gene+' upper CI',d.lowUp,blue,true);line('Low '+gene+' lower CI',d.lowDn,blue,true);
 line('High '+gene+' upper CI',d.highUp,red,true);line('High '+gene+' lower CI',d.highDn,red,true);
 line('Low '+gene+' TPM',d.low,blue,false);line('High '+gene+' TPM',d.high,red,false);
 cens('Low censored',d.lowC,d.low,blue);cens('High censored',d.highC,d.high,red);
 T(lg.tx,lg.tY,'Overall Survival',64,{a:'center'});
 L(lg.l1,lg.ys[0],lg.l2,lg.ys[0],blue,5);L(lg.l1,lg.ys[1],lg.l2,lg.ys[1],red,5);
 T(lg.t,lg.ys[0],'Low '+gene+' TPM',40);T(lg.t,lg.ys[1],'High '+gene+' TPM',40);
 txt.forEach((s,k)=>T(lg.r,lg.ys[k+2],s,40,{a:'right'}));
}
km(1671,148,'TM4SF1',{low:bLow,lowUp:bLowUp,lowDn:bLowDn,high:bHigh,highUp:bHighUp,highDn:bHighDn,lowC:bLowCens,highC:bHighCens},['Logrank p=0.033','HR(high)=1.5','p(HR)=0.035','n(high)=182','n(low)=182'],{tx:2151,tY:108,l1:2179,l2:2255,t:2272,r:2607,ys:[193,231,279,327,375,422,470]});
km(2903,148,'RPL23',{low:cLow,lowUp:cLowUp,lowDn:cLowDn,high:cHigh,highUp:cHighUp,highDn:cHighDn,lowC:cLowCens,highC:cHighCens},['Logrank p=0.0069','HR(high)=1.6','p(HR)=0.0075','n(high)=182','n(low)=182'],{tx:3384,tY:108,l1:3443,l2:3519,t:3536,r:3840,ys:[193,231,279,327,375,422,470]});
km(293.5,1421,'RPS12',{low:dLow,lowUp:dLowUp,lowDn:dLowDn,high:dHigh,highUp:dHighUp,highDn:dHighDn,lowC:dLowCens,highC:dHighCens},['Logrank p=0.0073','HR(high)=1.6','p(HR)=0.008','n(high)=182','n(low)=182'],{tx:774,tY:1382,l1:829,l2:905,t:922,r:1230,ys:[1466,1504,1553,1601,1649,1696,1745]});
panelLetter('B',1462,48);panelLetter('C',2692,48);panelLetter('D',25,1318);

// ---------- UMAP ----------
const umapAll=[umapLeft,umapUp,umapMidL,umapMidR,umapLow,umapTop,umapCenter,umapArm,umapRight,umapBottom];
const umapX=[-10,-5,0,5,10],umapY=[-8,-4,0,4];
function colorbar(x,y,w,h,min,max,ticks,colors,fmt,inverse){
 const i=addGrid(x,y,w,h);
 const stops=colors.stops;
 xAxis.push({gridIndex:i,type:'value',min:0,max:1,show:false});
 yAxis.push({gridIndex:i,type:'value',min,max,inverse:!!inverse,position:'right',splitLine:{show:false},axisLine:{show:false,onZero:false},axisTick:{show:false,customValues:ticks},axisLabel:{customValues:ticks,margin:colors.margin,fontSize:colors.size,fontFamily:SANS,color:'#000',formatter:fmt}});
 series.push({type:'custom',name:'colorbar',xAxisIndex:i,yAxisIndex:i,silent:true,clip:false,z:2,data:[[0,min]],renderItem:(p,api)=>{
  const c=p.coordSys;const kids=[{type:'rect',shape:{x:c.x,y:c.y,width:c.width,height:c.height},style:{fill:{type:'linear',x:0,y:0,x2:0,y2:1,colorStops:stops.map((s,k)=>({offset:k/(stops.length-1),color:s}))}}}];
  ticks.forEach(t=>{const yy=api.coord([0,t])[1];kids.push({type:'line',shape:{x1:c.x,y1:yy,x2:c.x+c.width*.2,y2:yy},style:{stroke:'#fff',lineWidth:2}},{type:'line',shape:{x1:c.x+c.width*.8,y1:yy,x2:c.x+c.width,y2:yy},style:{stroke:'#fff',lineWidth:2}})});
  return{type:'group',children:kids}}});
}
function umap(x,y,w,h,xr,yr,title,tx,tyy,groups,col,vmax,dot,fonts,labels,ng){
 const i=addGrid(x,y,w,h);
 const ax=(a,m)=>({gridIndex:i,type:'value',splitLine:{show:false},axisLine:{show:true,onZero:false,lineStyle:{color:'#000',width:4}},nameLocation:'middle',nameTextStyle:{fontSize:fonts.name,fontFamily:SANS,color:'#000'},axisTick:{show:true,length:10,customValues:a,lineStyle:{color:'#000',width:3}},axisLabel:{customValues:a,margin:m,fontSize:fonts.tick,fontFamily:SANS,color:'#000',formatter:minus}});
 xAxis.push(Object.assign(ax(umapX,17),{min:xr[0],max:xr[1],name:'UMAP_1',nameGap:ng[0]*sy}));
 yAxis.push(Object.assign(ax(umapY,22),{min:yr[0],max:yr[1],name:'UMAP_2',nameGap:ng[1]}));
 const data=groups.flatMap(g=>chunk(g,5).map(p=>[p[0],p[1],p[2+col]]));
 const si=series.length;
 series.push({type:'scatter',name:title,xAxisIndex:i,yAxisIndex:i,symbolSize:dot,silent:true,z:3,itemStyle:{opacity:1},data,encode:{x:0,y:1}});
 visualMap.push({type:'continuous',show:false,seriesIndex:si,dimension:2,min:0,max:vmax,inRange:{color:seuratStops.slice().reverse()}});
 T(tx,tyy,title,fonts.title,{a:'center',w:'bold'});
 if(labels)series.push({type:'scatter',name:title+' clusters',xAxisIndex:i,yAxisIndex:i,symbolSize:0,silent:true,z:6,data:labels.map(l=>({name:l[0],value:[l[1],l[2]]})),label:{show:true,position:'inside',formatter:'{b}',fontSize:36,fontFamily:SANS,color:'#000'},labelLayout:{hideOverlap:false}});
}
const bigF={name:47,tick:40,title:52};
umap(1585,1533,899,640,[-11.05,12.1],[-8.71,6.71],'TM4SF1',2032,1482,umapAll,0,umapDotMax[0],13,bigF,null,[68,73]);
umap(2831,1533,898,640,[-11.05,12.1],[-8.71,6.71],'RPL23',3279,1482,umapAll,1,umapDotMax[1],13,bigF,null,[68,73]);
umap(1542.6,2651,899.4,638,[-11.05,12.1],[-8.71,6.71],'RPS12',1992,2599,umapAll,2,umapDotMax[2],13,bigF,null,[68,73]);
const smF={name:48,tick:41,title:52};
umap(2790,2732,390,471,[-11,12.1],[-8.72,6.72],'MVI',2983,2676,[umapTop,umapUp,umapMidR,umapCenter,umapBottom,umapRight],0,umapDotMax[0],14,smF,umapMviLabels,[70,78]);
umap(3439,2732,390,471,[-11,12.1],[-8.72,6.72],'nonMVI',3632,2676,[umapLeft,umapUp,umapMidL,umapLow,umapTop,umapArm,nonMviRight],0,umapDotMax[0],14,smF,umapNonMviLabels,[70,78]);
const greyBlue=(m,s)=>({stops:seuratStops,margin:m,size:s});
colorbar(2529,1736,51,256,0,5.38,[0,1,2,3,4,5],greyBlue(22,40),v=>v);
colorbar(3775,1736,51,256,0,4.31,[0,1,2,3,4],greyBlue(22,40),v=>v);
colorbar(2487,2854,50,255,0,4.4,[0,1,2,3,4],greyBlue(22,40),v=>v);
T(3859,2964,'TM4SF1',46,{a:'center',w:'bold',rot:-Math.PI/2});
panelLetter('E',1464,1317);panelLetter('F',2697,1317);panelLetter('G',1466,2540);panelLetter('H',2635,2541);panelLetter('I',3277,2541);

// ---------- Panel J ----------
(function(){
 const i=addGrid(308,2989,204,1102);
 const yt=[0,.25,.5,.75,1];
 xAxis.push({gridIndex:i,type:'category',data:jGroups,axisLine:{show:false,onZero:false},axisTick:{show:true,alignWithLabel:true,length:15,lineStyle:{color:'#222',width:4}},axisLabel:{show:false}});
 yAxis.push({gridIndex:i,type:'value',min:-.049,max:1.049,offset:9,splitLine:{show:false},axisLine:{show:false,onZero:false},axisTick:{show:true,length:15,customValues:yt,lineStyle:{color:'#222',width:4}},axisLabel:{customValues:yt,margin:33,fontSize:62,fontFamily:SANS,color:'#000',formatter:v=>v.toFixed(2)}});
 for(let k=jClusters.length-1;k>=0;k--)series.push({type:'bar',name:jClusters[k],stack:'ratio',xAxisIndex:i,yAxisIndex:i,barWidth:81,silent:true,itemStyle:{color:jColors[k]},data:[jMVI[k],jNonMVI[k]]});
 graphic.push({type:'rect',silent:true,z:40,shape:{x:299,y:2989*sy,width:221.6,height:1102*sy},style:{fill:'none',stroke:'#111',lineWidth:3}});
 T(98,3539,'Ratio',58,{a:'center',rot:Math.PI/2});
 T(614,3149,'Cluster',60);
 T(336,4185,jGroups[0],62,{a:'center',rot:Math.PI/4});
 T(401,4221,jGroups[1],62,{a:'center',rot:Math.PI/4});
 panelLetter('J',33,2932);
})();

// ---------- Panels K, L ----------
function dot(x,y,w,h,xr,major,minor,terms,ratio,count,sizeFn,fmt,color,padj){
 const i=addGrid(x,y,w,h,{show:true,borderColor:'#111',borderWidth:2.5,backgroundColor:'transparent'});
 const yt=[1,2,3,4,5];
 xAxis.push({gridIndex:i,type:'value',min:xr[0],max:xr[1],name:'GeneRatio',nameLocation:'middle',nameGap:62*sy,nameTextStyle:{fontSize:40,fontFamily:SANS,color:'#111'},splitLine:{show:false},axisLine:{show:false,onZero:false},axisTick:{show:true,length:7,customValues:major,lineStyle:{color:'#111',width:2.5}},axisLabel:{customValues:major,margin:17,fontSize:40,fontFamily:SANS,color:'#111',formatter:fmt}});
 yAxis.push({gridIndex:i,type:'value',inverse:true,min:.4,max:5.6,splitLine:{show:false},axisLine:{show:false,onZero:false},axisTick:{show:true,length:7,customValues:yt,lineStyle:{color:'#111',width:2.5}},axisLabel:{customValues:yt,margin:16,fontSize:40,fontFamily:SANS,color:'#111',align:'right',lineHeight:46,formatter:v=>terms[v-1]}});
 series.push({type:'scatter',name:'grid',xAxisIndex:i,yAxisIndex:i,silent:true,z:1,data:[],markLine:{z:1,silent:true,animation:false,symbol:'none',label:{show:false},data:[...major.map(v=>({xAxis:v,lineStyle:{color:'#ebebeb',width:3,type:'solid'}})),...minor.map(v=>({xAxis:v,lineStyle:{color:'#eeeeee',width:2,type:'solid'}})),...yt.map(v=>({yAxis:v,lineStyle:{color:'#ebebeb',width:4,type:'solid'}}))]}});
 const si=series.length;
 series.push({type:'scatter',name:'terms',xAxisIndex:i,yAxisIndex:i,silent:true,z:4,clip:true,symbolSize:v=>sizeFn(v[3]),itemStyle:{color,borderColor:'#000',borderWidth:2.5,opacity:1},encode:{x:0,y:1},data:ratio.map((r,k)=>[r,k+1,padj?padj[k]:0,count[k]])});
 return si;
}
const kSize=c=>17.4*Math.sqrt(c)-14.7,lSize=c=>21.4*Math.sqrt(c)-19.5;
dot(1455,3589,602,653,[.02593,.0792],[.03,.04,.05,.06,.07],[.035,.045,.055,.065,.075],kTerms,kRatio,kCount,kSize,v=>v.toFixed(2),'#8f5a78');
const lSeries=dot(2997,3593,669,653,[.04495,.11253],[.06,.08,.1],[.05,.07,.09,.11],lTerms,lRatio,lCount,lSize,v=>v.toFixed(2),'#888',lPadj);
visualMap.push({type:'continuous',show:false,seriesIndex:lSeries,dimension:2,min:.0015,max:.0243,inRange:{color:['#d94f4f','#2b6cb5']}});
T(1691,3541,'SM2',61,{a:'center',f:SERIF});T(3277,3539,'SM6',61,{a:'center',f:SERIF});
T(2113,3544,'p.adjust',36);T(3723,3542,'p.adjust',36);
T(2113,3958,'Count',36);T(3713,3909,'Count',36);
colorbar(2113,3578,57,288,.03183602,.04183602,[.03683602],{stops:['#8f5a78','#8f5a78'],margin:18,size:29},v=>v.toFixed(8));
colorbar(3723,3576.5,57,288.5,.0015,.0243,[.005,.01,.015,.02],{stops:['#d94f4f','#2b6cb5'],margin:18,size:29},v=>v.toFixed(3),true);
const circ=(cx,cy,d)=>graphic.push({type:'circle',silent:true,z:45,shape:{cx,cy:cy*sy,r:d/2},style:{fill:'#fff',stroke:'#000',lineWidth:2.5}});
[4022,4079,4138,4202,4273].forEach((yy,k)=>{circ(2149,yy,kSize(kLegendCounts[k]));T(2204,yy,kLegendCounts[k].toFixed(1),29)});
[3968,4034,4104,4180,4263].forEach((yy,k)=>{circ(3756,yy,lSize(lLegendCounts[k]));T(3822,yy,String(lLegendCounts[k]),31)});
panelLetter('K',911,3470);panelLetter('L',2388,3470);

// ---------- chart ----------
const chart=echarts.init(document.getElementById('c'),null,{renderer:'canvas',width:3898,height:PAGE_H});
chart.setOption({animation:false,backgroundColor:'#fff',grid,xAxis,yAxis,series,visualMap,graphic,
 legend:[
  {data:['Down_Highly','Down_Lowly','Up_Highly','Up_Lowly'],orient:'vertical',left:1067,top:995*sy,itemWidth:150,itemHeight:20,symbolKeepAspect:true,icon:'circle',itemGap:58.4*sy-33,selectedMode:false,textStyle:{fontSize:33,fontFamily:SANS,color:'#111'}},
  {data:jClusters,orient:'vertical',left:615,top:3211*sy,itemWidth:86,itemHeight:87*sy,itemGap:7*sy,icon:'rect',selectedMode:false,textStyle:{fontSize:41,fontFamily:SANS,color:'#000',padding:[0,0,0,28]}}
 ]});
</script></body></html>
